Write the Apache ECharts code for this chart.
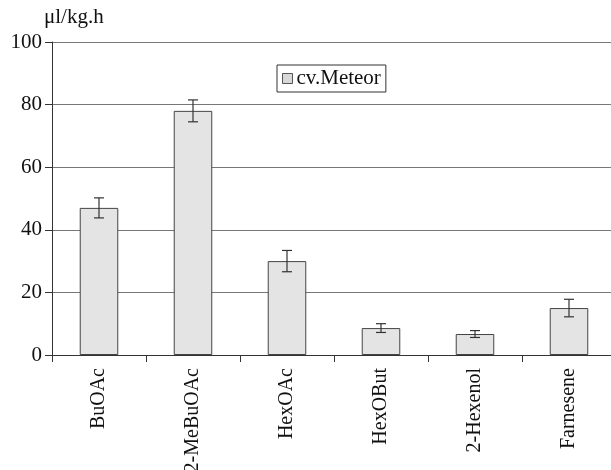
<!DOCTYPE html>
<html><head><meta charset="utf-8">
<script src="https://cdn.jsdelivr.net/npm/echarts@6/dist/echarts.min.js"></script>
<style>html,body{margin:0;padding:0;background:#fff}#c{width:611px;height:470px}</style>
</head><body><div id="c"></div>
<script>
const categories = ['BuOAc','2-MeBuOAc','HexOAc','HexOBut','2-Hexenol','Farnesene'];
const values = [47, 78, 30, 8.6, 6.7, 15];
const errors = [3.2, 3.5, 3.4, 1.4, 1.1, 2.8];
const seriesName = 'cv.Meteor';
const unit = 'μl/kg.h';

const font = 'Liberation Serif';
const chart = echarts.init(document.getElementById('c'));
chart.setOption({
  animation: false,
  textStyle: {fontFamily: font},
  grid: {left: 52, right: -5, top: 42, bottom: 115, containLabel: false, outerBoundsMode: 'none'},
  legend: {
    data: [{name: seriesName, icon: 'rect'}],
    left: 277, top: 65,
    itemWidth: 10, itemHeight: 10, itemGap: 4,
    padding: [3, 5, 3, 5],
    borderColor: '#333', borderWidth: 1,
    itemStyle: {color: '#d8d8d8', borderColor: '#555', borderWidth: 1},
    textStyle: {fontFamily: font, fontSize: 21, color: '#111', padding: [0,0,0,-1]}
  },
  xAxis: {
    type: 'category', data: categories,
    axisLine: {lineStyle: {color: '#333', width: 1}},
    axisTick: {show: true, length: 7, lineStyle: {color: '#333'}},
    axisLabel: {rotate: 90, fontFamily: font, fontSize: 20, color: '#111', margin: 13, interval: 0}
  },
  yAxis: {
    type: 'value', min: 0, max: 100, interval: 20,
    name: unit, nameLocation: 'end', nameGap: 14,
    nameTextStyle: {fontFamily: font, fontSize: 21, color: '#111', align: 'left', padding: [0,0,0,-8]},
    axisLine: {show: true, lineStyle: {color: '#333'}},
    axisTick: {show: true, length: 7, lineStyle: {color: '#333'}},
    axisLabel: {fontFamily: font, fontSize: 21, color: '#111', margin: 10},
    splitLine: {lineStyle: {color: '#777', width: 1}}
  },
  series: [
    {
      name: seriesName, type: 'bar', data: values, barWidth: '41%',
      itemStyle: {color: '#e4e4e4', borderColor: '#444', borderWidth: 1}
    },
    {
      type: 'custom', name: 'err', silent: true, z: 5,
      data: values.map((v, i) => [i, v - errors[i], v + errors[i]]),
      renderItem: function (params, api) {
        const lo = api.coord([api.value(0), api.value(1)]);
        const hi = api.coord([api.value(0), api.value(2)]);
        const w = 5;
        const st = {stroke: '#333', lineWidth: 1.2};
        return {type: 'group', children: [
          {type: 'line', shape: {x1: lo[0], y1: lo[1], x2: hi[0], y2: hi[1]}, style: st},
          {type: 'line', shape: {x1: lo[0]-w, y1: lo[1], x2: lo[0]+w, y2: lo[1]}, style: st},
          {type: 'line', shape: {x1: hi[0]-w, y1: hi[1], x2: hi[0]+w, y2: hi[1]}, style: st}
        ]};
      }
    }
  ]
});
</script></body></html>
